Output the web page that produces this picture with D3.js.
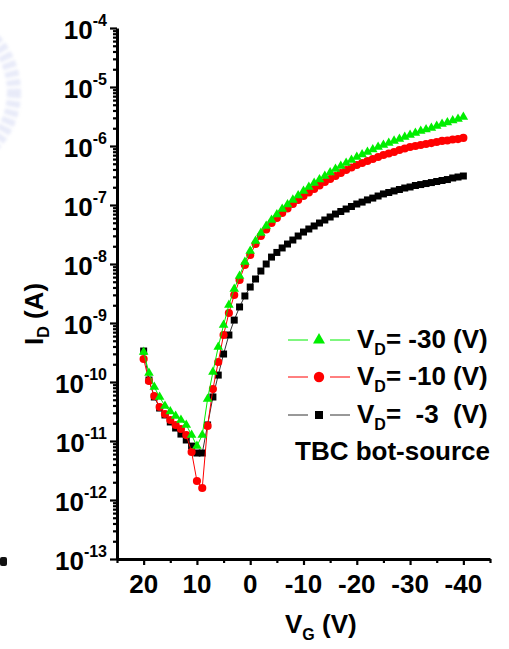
<!DOCTYPE html>
<html>
<head>
<meta charset="utf-8">
<script src="https://cdn.jsdelivr.net/npm/d3@7"></script>
<style>
  body { margin: 0; background: #fff; }
  text { font-family: Arial, "Liberation Sans", sans-serif; font-weight: bold; fill: #000; }
</style>
</head>
<body>
<svg id="chart" width="509" height="649"></svg>
<script>
// Gate sweep (V) shared by all three transfer curves
const gateVoltage = [20,19,18,17,16,15,14,13,12,11,10,9,8,7,6,5,4,3,2,1,0,
  -1,-2,-3,-4,-5,-6,-7,-8,-9,-10,-11,-12,-13,-14,-15,-16,-17,-18,-19,-20,
  -21,-22,-23,-24,-25,-26,-27,-28,-29,-30,-31,-32,-33,-34,-35,-36,-37,-38,-39,-40];

// Drain current I_D (A) for V_D = -30 V
const idVd30 = [3.22e-10,1.42e-10,8.2e-11,5.57e-11,3.92e-11,3.16e-11,2.65e-11,2.27e-11,1.87e-11,1.26e-11,8.2e-12,1.26e-11,5.15e-11,1.48e-10,3.92e-10,9.25e-10,2.02e-9,3.77e-9,6.26e-9,1.08e-8,1.66e-8,
  2.45e-8,3.35e-8,4.41e-8,5.57e-8,6.9e-8,8.55e-8,1.02e-7,1.22e-7,1.45e-7,1.73e-7,
  2.02e-7,2.36e-7,2.70e-7,3.10e-7,3.56e-7,4.07e-7,4.58e-7,5.15e-7,5.79e-7,6.51e-7,
  7.18e-7,7.91e-7,8.73e-7,9.62e-7,1.04e-6,1.12e-6,1.22e-6,1.31e-6,1.42e-6,1.54e-6,
  1.66e-6,1.79e-6,1.90e-6,2.02e-6,2.18e-6,2.36e-6,2.50e-6,2.70e-6,2.87e-6,3.10e-6];

// Drain current I_D (A) for V_D = -10 V
const idVd10 = [2.45e-10,1.04e-10,5.79e-11,3.77e-11,2.87e-11,2.27e-11,1.87e-11,1.60e-11,1.26e-11,6.52e-12,2.10e-12,1.60e-12,1.80e-11,7.6e-11,2.18e-10,6.26e-10,1.48e-9,2.98e-9,5.36e-9,9.62e-9,1.42e-8,
  2.18e-8,2.98e-8,3.85e-8,4.95e-8,6.02e-8,7.31e-8,8.73e-8,1.04e-7,1.22e-7,1.42e-7,
  1.63e-7,1.87e-7,2.14e-7,2.45e-7,2.76e-7,3.10e-7,3.48e-7,3.92e-7,4.32e-7,4.77e-7,
  5.15e-7,5.57e-7,6.02e-7,6.51e-7,7.03e-7,7.46e-7,7.91e-7,8.55e-7,9.08e-7,9.62e-7,
  1.00e-6,1.04e-6,1.08e-6,1.12e-6,1.17e-6,1.22e-6,1.24e-6,1.29e-6,1.31e-6,1.37e-6];

// Drain current I_D (A) for V_D = -3 V
const idVd3 = [3.35e-10,1.08e-10,5.57e-11,3.62e-11,2.76e-11,2.10e-11,1.66e-11,1.31e-11,1.04e-11,8.2e-12,6.26e-12,6.26e-12,1.87e-11,5.57e-11,1.31e-10,2.98e-10,6.26e-10,1.12e-9,1.87e-9,2.87e-9,4.07e-9,
  5.57e-9,7.6e-9,1.0e-8,1.31e-8,1.57e-8,1.87e-8,2.18e-8,2.55e-8,2.98e-8,3.48e-8,
  3.92e-8,4.41e-8,4.95e-8,5.57e-8,6.26e-8,7.03e-8,7.76e-8,8.55e-8,9.44e-8,1.04e-7,
  1.12e-7,1.22e-7,1.31e-7,1.42e-7,1.54e-7,1.63e-7,1.73e-7,1.83e-7,1.94e-7,2.02e-7,
  2.14e-7,2.22e-7,2.31e-7,2.40e-7,2.50e-7,2.60e-7,2.70e-7,2.87e-7,2.98e-7,3.10e-7];

// Axis ticks
const xMajorTicks = [20, 10, 0, -10, -20, -30, -40];
const xMinorTicks = [25, 15, 5, -5, -15, -25, -35, -45];
const yDecadeExponents = [-13, -12, -11, -10, -9, -8, -7, -6, -5, -4];

// Legend entries
const legendLabels = ["= -30 (V)", "= -10 (V)", "=  -3  (V)"];
const deviceNote = "TBC bot-source";

const svg = d3.select("#chart");

const x = d3.scaleLinear().domain([25, -45]).range([117, 490]);
const y = d3.scaleLog().domain([1e-13, 1e-4]).range([559, 28]);

// faint watermark edge in the upper-left corner
const wm = svg.append("g").attr("opacity", 0.42).style("filter", "blur(1.4px)");
wm.append("circle").attr("cx", -64).attr("cy", 92).attr("r", 78)
  .attr("fill", "none").attr("stroke", "#c9cff0").attr("stroke-width", 14)
  .attr("stroke-dasharray", "6 3");
svg.append("rect").attr("x", 0).attr("y", 557).attr("width", 7).attr("height", 9)
  .attr("rx", 2).attr("fill", "#111");

// axes
const yMinor = [];
for (let e = -13; e < -4; e++) for (let m = 2; m <= 9; m++) yMinor.push(m * Math.pow(10, e));

const axisStyle = g => {
  g.selectAll("path.domain").attr("stroke", "#000").attr("stroke-width", 3);
  g.selectAll(".tick line").attr("stroke", "#000").attr("stroke-width", 2.2);
  g.selectAll(".tick text").remove();
};

svg.append("g").attr("transform", "translate(117,0)")
  .call(d3.axisLeft(y).tickValues(yMinor).tickSize(4).tickSizeOuter(0)).call(axisStyle)
  .select("path.domain").remove();
svg.append("g").attr("transform", "translate(117,0)")
  .call(d3.axisLeft(y).tickValues(yDecadeExponents.map(e => Math.pow(10, e))).tickSize(7).tickSizeOuter(0))
  .call(axisStyle);

svg.append("g").attr("transform", "translate(0,559)")
  .call(d3.axisBottom(x).tickValues(xMinorTicks).tickSize(4).tickSizeOuter(0)).call(axisStyle)
  .select("path.domain").remove();
svg.append("g").attr("transform", "translate(0,559)")
  .call(d3.axisBottom(x).tickValues(xMajorTicks).tickSize(6).tickSizeOuter(0))
  .call(axisStyle);

// y tick labels 10^n
yDecadeExponents.forEach(e => {
  const t = svg.append("text").attr("x", 107).attr("y", y(Math.pow(10, e)) + 11)
    .attr("text-anchor", "end").style("font-size", "26px");
  t.append("tspan").text("10");
  t.append("tspan").attr("dy", -13).style("font-size", "16px").text(String(e));
});

// x tick labels
xMajorTicks.forEach(v => {
  svg.append("text").attr("x", x(v)).attr("y", 593).attr("text-anchor", "middle")
    .style("font-size", "26px").text(v);
});

// axis titles
const yt = svg.append("text").attr("transform", "translate(43,314) rotate(-90)")
  .attr("text-anchor", "middle").style("font-size", "26px");
yt.append("tspan").text("I");
yt.append("tspan").attr("dy", 6).style("font-size", "16px").text("D");
yt.append("tspan").attr("dy", -6).text(" (A)");

const xt = svg.append("text").attr("x", 285).attr("y", 633).style("font-size", "26px");
xt.append("tspan").text("V");
xt.append("tspan").attr("dy", 7).style("font-size", "16px").text("G");
xt.append("tspan").attr("dy", -7).text(" (V)");

// data series, drawn bottom to top
const series = [
  { values: idVd3,  color: "#000", line: "#333", shape: d3.symbolSquare,   size: 49 },
  { values: idVd10, color: "#ff0000", line: "#ff0000", shape: d3.symbolCircle,   size: 52 },
  { values: idVd30, color: "#00ee00", line: "#00ee00", shape: d3.symbolTriangle, size: 40 }
];

const lineGen = d3.line().x(d => x(d[0])).y(d => y(d[1]));

series.forEach(s => {
  const pts = gateVoltage.map((v, i) => [v, s.values[i]]);
  const g = svg.append("g");
  g.append("path").datum(pts).attr("d", lineGen)
    .attr("fill", "none").attr("stroke", s.line).attr("stroke-width", 1);
  g.selectAll("path.m").data(pts).join("path").attr("class", "m")
    .attr("transform", d => `translate(${x(d[0])},${y(d[1])})`)
    .attr("d", d3.symbol().type(s.shape).size(s.size))
    .attr("fill", s.color);
});

// legend
const legendRows = [
  { label: legendLabels[0], color: "#00ee00", line: "#00ee00", shape: d3.symbolTriangle, size: 62, yMark: 340, yText: 348 },
  { label: legendLabels[1], color: "#ff0000", line: "#ff0000", shape: d3.symbolCircle,   size: 85, yMark: 377, yText: 385 },
  { label: legendLabels[2], color: "#000",    line: "#333",    shape: d3.symbolSquare,   size: 64, yMark: 415, yText: 423 }
];
legendRows.forEach(r => {
  svg.append("line").attr("x1", 288).attr("x2", 308).attr("y1", r.yMark).attr("y2", r.yMark)
    .attr("stroke", r.line).attr("stroke-width", 1);
  svg.append("line").attr("x1", 330).attr("x2", 350).attr("y1", r.yMark).attr("y2", r.yMark)
    .attr("stroke", r.line).attr("stroke-width", 1);
  svg.append("path").attr("transform", `translate(319,${r.yMark})`)
    .attr("d", d3.symbol().type(r.shape).size(r.size)).attr("fill", r.color);
  const t = svg.append("text").attr("x", 357).attr("y", r.yText)
    .style("font-size", "26px").style("white-space", "pre").attr("xml:space", "preserve");
  t.append("tspan").text("V");
  t.append("tspan").attr("dy", 7).style("font-size", "16px").text("D");
  t.append("tspan").attr("dy", -7).text(r.label);
});
svg.append("text").attr("x", 295).attr("y", 460).style("font-size", "26px").text(deviceNote);
</script>
</body>
</html>
